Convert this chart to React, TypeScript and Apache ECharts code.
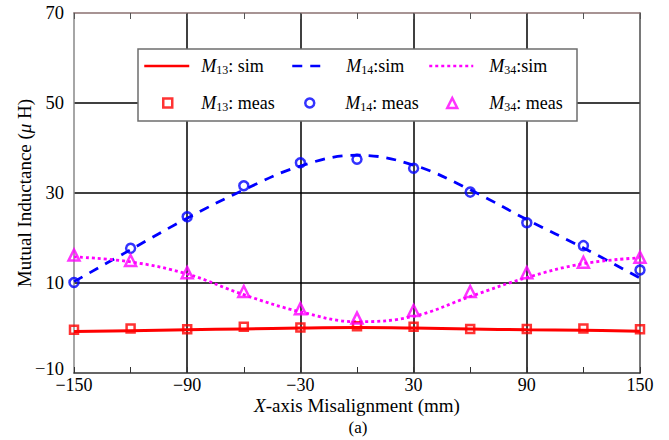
import React, { useEffect, useRef } from "react";
import * as echarts from "echarts";

const xPositions = [-150, -120, -90, -60, -30, 0, 30, 60, 90, 120, 150];
const m13Sim = [-0.8, -0.6, -0.4, -0.2, 0.0, 0.1, 0.0, -0.2, -0.4, -0.5, -0.7];
const m14Sim = [10.3, 17.4, 24.4, 30.7, 36.0, 38.4, 36.2, 30.7, 24.1, 17.8, 11.1];
const m34Sim = [15.8, 14.7, 12.0, 7.4, 3.6, 1.4, 2.6, 7.0, 11.2, 14.3, 15.6];
const m13Meas = [-0.4, -0.1, -0.3, 0.3, 0.1, 0.4, 0.3, -0.2, -0.2, -0.1, -0.3];
const m14Meas = [10.1, 17.7, 24.7, 31.6, 36.7, 37.5, 35.5, 30.2, 23.4, 18.3, 12.9];
const m34Meas = [16.2, 15.0, 12.3, 8.1, 4.3, 2.2, 3.9, 8.1, 12.3, 14.6, 15.7];

const seriesNames = ["M13: sim", "M14:sim", "M34:sim", "M13: meas", "M14: meas", "M34: meas"];
const xTicks = { min: -150, max: 150, interval: 60 };
const yTicks = { min: -10, max: 70, interval: 20 };

const FONT = "Liberation Serif";
const RED = "#ff0000";
const BLUE = "#0000ff";
const MAG = "#ff00ff";

const pairs = (ys: number[]) => xPositions.map((x, i) => [x, ys[i]]);
const minus = (v: number) => String(v).replace("-", "\u2212");

const legendFormatter = (name: string) => {
  const m = name.match(/^M(\d+)(.*)$/);
  if (!m) return name;
  return `{m|M}{s|${m[1]}}{t|${m[2]}}`;
};

const rich = {
  m: { fontFamily: FONT, fontSize: 18, fontStyle: "italic", color: "#000" },
  s: { fontFamily: FONT, fontSize: 12, color: "#000", padding: [7, 0, 0, 0] },
  t: { fontFamily: FONT, fontSize: 18, color: "#000" },
};

function makeLegend(name: string, left: number, top: number, w: number, h: number, pad: number, isLine: boolean) {
  return {
    data: [name],
    left,
    top,
    padding: 0,
    itemGap: 0,
    itemWidth: w,
    itemHeight: h,
    selectedMode: false,
    formatter: legendFormatter,
    textStyle: { fontFamily: FONT, fontSize: 18, color: "#000", padding: [0, 0, 0, pad], rich },
    itemStyle: isLine ? { opacity: 0 } : { borderWidth: 2.5 },
    lineStyle: isLine ? { width: 2.5 } : {},
    z: 5,
  };
}

export default function App() {
  const ref = useRef<HTMLDivElement>(null);
  useEffect(() => {
    if (!ref.current) return;
    const chart = echarts.init(ref.current, null, { renderer: "svg" });
    const option = {
      animation: false,
      backgroundColor: "#fff",
      grid: { left: 74, right: 29, top: 13, bottom: 67, containLabel: false },
      legend: [
        makeLegend(seriesNames[0], 143, 57, 45, 14, 7, true),
        makeLegend(seriesNames[1], 291, 57, 34, 14, 15, true),
        makeLegend(seriesNames[2], 428, 57, 44, 14, 11, true),
        makeLegend(seriesNames[3], 162, 94, 9, 9, 24, false),
        makeLegend(seriesNames[4], 304, 94, 9, 9, 26, false),
        makeLegend(seriesNames[5], 446, 94, 10, 10, 27, false),
      ],
      graphic: [
        {
          type: "rect",
          z: 3,
          zlevel: 0,
          shape: { x: 138, y: 49, width: 439, height: 72 },
          style: { fill: "#fff", stroke: "#6e6e6e", lineWidth: 1.5 },
        },
        {
          type: "text",
          x: 358,
          y: 427,
          style: {
            text: "(a)",
            fontFamily: FONT,
            fontSize: 17,
            fill: "#000",
            align: "center",
            verticalAlign: "middle",
          },
        },
      ],
      xAxis: [
        {
          type: "value",
          position: "bottom",
          ...xTicks,
          name: "{i|X}{r|-axis Misalignment (mm)}",
          nameLocation: "middle",
          nameGap: 23,
          nameMoveOverlap: false,
          nameTextStyle: {
            rich: {
              i: { fontFamily: FONT, fontSize: 19, fontStyle: "italic", color: "#000" },
              r: { fontFamily: FONT, fontSize: 19, color: "#000" },
            },
          },
          axisLine: { show: true, onZero: false, lineStyle: { color: "#333", width: 1.5 } },
          axisTick: { show: true, inside: true, length: 6, lineStyle: { color: "#333" } },
          minorTick: { show: true, splitNumber: 2, length: 6, lineStyle: { color: "#333" } },
          axisLabel: { margin: 3, fontFamily: FONT, fontSize: 18, color: "#000", formatter: minus },
          splitLine: { show: true, showMinLine: false, showMaxLine: false, lineStyle: { color: "#000", width: 1.5 } },
        },
        {
          type: "value",
          position: "top",
          ...xTicks,
          axisLine: { show: true, onZero: false, lineStyle: { color: "#8a7070", width: 1.5 } },
          axisTick: { show: true, inside: true, length: 6, lineStyle: { color: "#555" } },
          minorTick: { show: true, splitNumber: 2, length: 6, lineStyle: { color: "#555" } },
          axisLabel: { show: false },
          splitLine: { show: false },
        },
      ],
      yAxis: [
        {
          type: "value",
          position: "left",
          ...yTicks,
          name: "{r|Mutual Inductance (}{i|\u03bc}{r| H)}",
          nameLocation: "middle",
          nameGap: 40,
          nameMoveOverlap: false,
          nameTextStyle: {
            rich: {
              i: { fontFamily: FONT, fontSize: 19, fontStyle: "italic", color: "#000" },
              r: { fontFamily: FONT, fontSize: 19, color: "#000" },
            },
          },
          axisLine: { show: true, onZero: false, lineStyle: { color: "#888", width: 1.5 } },
          axisTick: { show: false },
          axisLabel: {
            margin: 10,
            fontFamily: FONT,
            fontSize: 18.5,
            color: "#000",
            formatter: (v: number) => (v === yTicks.min ? `{lo|${minus(v)}}` : minus(v)),
            rich: { lo: { fontFamily: FONT, fontSize: 18.5, color: "#000", padding: [0, 0, 9, 0] } },
          },
          splitLine: { show: true, showMinLine: false, showMaxLine: false, lineStyle: { color: "#000", width: 1.5 } },
        },
        {
          type: "value",
          position: "right",
          ...yTicks,
          axisLine: { show: true, onZero: false, lineStyle: { color: "#4d4d4d", width: 1.5 } },
          axisTick: { show: false },
          axisLabel: { show: false },
          splitLine: { show: false },
        },
      ],
      series: [
        {
          name: seriesNames[0],
          type: "line",
          data: pairs(m13Sim),
          smooth: 0.4,
          symbol: "none",
          lineStyle: { color: RED, width: 3, type: "solid" },
          itemStyle: { color: RED },
          z: 2,
        },
        {
          name: seriesNames[1],
          type: "line",
          data: pairs(m14Sim),
          smooth: 0.4,
          symbol: "none",
          lineStyle: { color: BLUE, width: 2.8, type: [10, 8] },
          itemStyle: { color: BLUE },
          z: 2,
        },
        {
          name: seriesNames[2],
          type: "line",
          data: pairs(m34Sim),
          smooth: 0.4,
          symbol: "none",
          lineStyle: { color: MAG, width: 2.8, type: [3, 3] },
          itemStyle: { color: MAG },
          z: 2,
        },
        {
          name: seriesNames[3],
          type: "scatter",
          data: pairs(m13Meas),
          symbol: "rect",
          symbolSize: 8,
          itemStyle: { color: "rgba(0,0,0,0)", borderColor: RED, borderWidth: 2.5 },
          z: 3,
        },
        {
          name: seriesNames[4],
          type: "scatter",
          data: pairs(m14Meas),
          symbol: "circle",
          symbolSize: 9,
          itemStyle: { color: "rgba(0,0,0,0)", borderColor: BLUE, borderWidth: 2.5 },
          z: 3,
        },
        {
          name: seriesNames[5],
          type: "scatter",
          data: pairs(m34Meas),
          symbol: "triangle",
          symbolSize: 11,
          itemStyle: { color: "rgba(0,0,0,0)", borderColor: MAG, borderWidth: 2.5 },
          z: 3,
        },
      ],
    };
    chart.setOption(option as any);
    return () => chart.dispose();
  }, []);
  return <div ref={ref} style={{ width: 669, height: 440, position: "absolute", left: 0, top: 0 }} />;
}
